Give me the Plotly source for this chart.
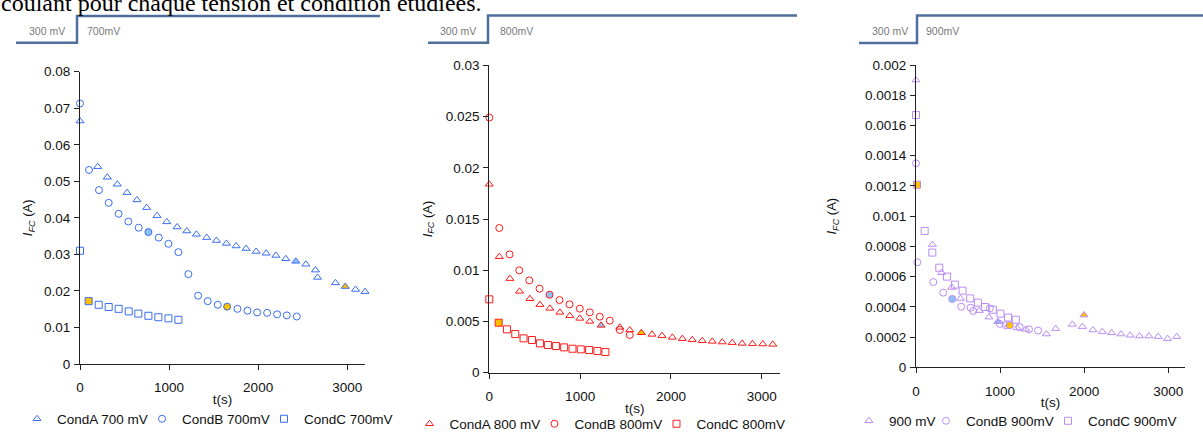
import plotly.graph_objects as go

W, H = 1203, 432

# ---------------- data ----------------
x_ticks = [0, 1000, 2000, 3000]
x_ticklabels = ["0", "1000", "2000", "3000"]

# Panel 1 : 700 mV
t_A700 = [0, 199, 307, 419, 528, 640, 749, 865, 974, 1090, 1199, 1307, 1423, 1532, 1644,
          1753, 1865, 1978, 2090, 2199, 2311, 2423, 2536, 2644, 2667, 2869, 2978, 3094, 3200]
i_A700 = [0.0665, 0.0540, 0.0511, 0.0492, 0.0469, 0.0449, 0.0428, 0.0406, 0.0389, 0.0375,
          0.0364, 0.0355, 0.0346, 0.0338, 0.0330, 0.0323, 0.0316, 0.0308, 0.0303, 0.0297,
          0.0288, 0.0281, 0.0273, 0.0257, 0.0237, 0.0222, 0.0212, 0.0204, 0.0198]
hl_A700 = {21: "blue", 26: "orange"}

t_B700 = [0, 101, 213, 322, 434, 543, 659, 768, 884, 993, 1105, 1217, 1326, 1434, 1547,
          1652, 1768, 1880, 1989, 2101, 2213, 2322, 2434]
i_B700 = [0.0713, 0.0531, 0.0476, 0.0441, 0.0411, 0.0390, 0.0373, 0.0361, 0.0346, 0.0329,
          0.0306, 0.0246, 0.0187, 0.0172, 0.0162, 0.0157, 0.0151, 0.0146, 0.0141, 0.0140,
          0.0136, 0.0133, 0.0130]
hl_B700 = {7: "blue", 15: "orange"}

t_C700 = [0, 97, 210, 322, 434, 547, 655, 768, 880, 993, 1105]
i_C700 = [0.0310, 0.0172, 0.0162, 0.0156, 0.0151, 0.0144, 0.0138, 0.0132, 0.0128, 0.0125, 0.0121]
hl_C700 = {1: "orange"}

y1_ticks = [0, 0.01, 0.02, 0.03, 0.04, 0.05, 0.06, 0.07, 0.08]
y1_ticklabels = ["0", "0.01", "0.02", "0.03", "0.04", "0.05", "0.06", "0.07", "0.08"]

# Panel 2 : 800 mV
t_A800 = [0, 110, 227, 333, 447, 557, 667, 777, 886, 996, 1106, 1231, 1436, 1546, 1674,
          1791, 1901, 2015, 2125, 2234, 2344, 2454, 2564, 2674, 2784, 2897, 3011, 3121]
i_A800 = [0.01839, 0.01132, 0.00918, 0.00794, 0.00722, 0.00664, 0.00628, 0.00589, 0.00556,
          0.00530, 0.00501, 0.00462, 0.00443, 0.00417, 0.00390, 0.00374, 0.00361, 0.00345,
          0.00332, 0.00322, 0.00312, 0.00306, 0.00299, 0.00293, 0.00286, 0.00283, 0.00280,
          0.00277]
hl_A800 = {11: "blue", 14: "orange"}

t_B800 = [0, 110, 223, 330, 440, 553, 663, 773, 883, 996, 1106, 1216, 1326, 1436, 1546]
i_B800 = [0.0249, 0.01412, 0.01155, 0.00999, 0.00901, 0.00820, 0.00761, 0.00709, 0.00667,
          0.00625, 0.00589, 0.00547, 0.00508, 0.00417, 0.00368]
hl_B800 = {6: "blue"}

t_C800 = [0, 103, 194, 286, 377, 469, 557, 645, 733, 824, 916, 1007, 1099, 1190, 1278]
i_C800 = [0.00716, 0.00488, 0.00423, 0.00377, 0.00335, 0.00319, 0.00286, 0.00270, 0.00260,
          0.00247, 0.00234, 0.00228, 0.00221, 0.00212, 0.00202]
hl_C800 = {1: "orange"}

y2_ticks = [0, 0.005, 0.01, 0.015, 0.02, 0.025, 0.03]
y2_ticklabels = ["0", "0.005", "0.01", "0.015", "0.02", "0.025", "0.03"]

# Panel 3 : 900 mV
t_A900 = [0, 195, 305, 425, 530, 752, 867, 974, 1100, 1203, 1306, 1551, 1662, 1860, 1979,
          1998, 2105, 2216, 2327, 2438, 2548, 2659, 2770, 2881, 2992, 3102]
i_A900 = [0.00190, 0.000812, 0.000626, 0.000528, 0.000455, 0.000375, 0.000332, 0.000302,
          0.000280, 0.000260, 0.000251, 0.000220, 0.000256, 0.000284, 0.000269, 0.000346,
          0.000247, 0.000236, 0.000229, 0.000220, 0.000212, 0.000207, 0.000207, 0.000203,
          0.000190, 0.000203]
hl_A900 = {7: "blue", 15: "orange"}

t_B900 = [0, 16, 206, 324, 431, 538, 649, 681, 878, 997, 1068, 1116, 1234, 1345, 1452]
i_B900 = [0.001349, 0.000695, 0.000564, 0.000494, 0.000452, 0.000401, 0.000394, 0.000372,
          0.000390, 0.000287, 0.000278, 0.000278, 0.000265, 0.000251, 0.000243]
hl_B900 = {4: "blue", 11: "orange"}

t_C900 = [0, 12, 103, 194, 277, 368, 463, 554, 645, 736, 823, 914, 1005, 1096, 1187]
i_C900 = [0.001669, 0.001208, 0.000902, 0.000759, 0.000659, 0.000600, 0.000547, 0.000507,
          0.000456, 0.000428, 0.000399, 0.000381, 0.000355, 0.000329, 0.000315]
hl_C900 = {1: "orange"}

y3_ticks = [0, 0.0002, 0.0004, 0.0006, 0.0008, 0.001, 0.0012, 0.0014, 0.0016, 0.0018, 0.002]
y3_ticklabels = ["0", "0.0002", "0.0004", "0.0006", "0.0008", "0.001", "0.0012", "0.0014",
                 "0.0016", "0.0018", "0.002"]

step_labels = [("300 mV", "700mV"), ("300 mV", "800mV"), ("300 mV", "900mV")]

# ---------------- styling ----------------
FONT = "Liberation Sans"
BLUE = "#3a6df0"
RED = "#ff1a1a"
PURPLE = "#b98cf5"
FILLS = {"blue": "#8fc1f2", "orange": "#ffc000"}
HOLLOW = "rgba(255,255,255,0)"


def px(x):
    return x / W


def py(y):
    return 1 - y / H


fig = go.Figure()

# (name, symbol, t, I, highlights, legend entry width)
panels = [
    dict(color=BLUE, legend="legend", xa="x", ya="y",
         series=[("CondA 700 mV", "triangle-up", t_A700, i_A700, hl_A700, 80),
                 ("CondB 700mV", "circle", t_B700, i_B700, hl_B700, 77),
                 ("CondC 700mV", "square", t_C700, i_C700, hl_C700, 88)]),
    dict(color=RED, legend="legend2", xa="x2", ya="y2",
         series=[("CondA 800 mV", "triangle-up", t_A800, i_A800, hl_A800, 80),
                 ("CondB 800mV", "circle", t_B800, i_B800, hl_B800, 77),
                 ("CondC 800mV", "square", t_C800, i_C800, hl_C800, 88)]),
    dict(color=PURPLE, legend="legend3", xa="x3", ya="y3",
         series=[("900 mV", "triangle-up", t_A900, i_A900, hl_A900, 32),
                 ("CondB 900mV", "circle", t_B900, i_B900, hl_B900, 77),
                 ("CondC 900mV", "square", t_C900, i_C900, hl_C900, 88)]),
]

for p in panels:
    for name, sym, tt, ii, hl, lw in p["series"]:
        fills = [FILLS[hl[k]] if k in hl else HOLLOW for k in range(len(tt))]
        fig.add_trace(go.Scatter(
            x=tt, y=ii, mode="markers", name=name,
            xaxis=p["xa"], yaxis=p["ya"], legend=p["legend"], cliponaxis=False,
            legendwidth=lw,
            marker=dict(symbol=sym, size=7, color=fills,
                        line=dict(color=p["color"], width=1)),
        ))

# axis geometry (pixels)
geo = [
    dict(x0=80, x1=365, y0=71.7, y1=364.0, yt=y1_ticks, yl=y1_ticklabels, yr=[0, 0.08], ystand=8),
    dict(x0=489.3, x1=780, y0=65.3, y1=372.7, yt=y2_ticks, yl=y2_ticklabels, yr=[0, 0.03], ystand=10),
    dict(x0=916, x1=1185, y0=65.0, y1=367.3, yt=y3_ticks, yl=y3_ticklabels, yr=[0, 0.002], ystand=25),
]

axis_common = dict(showgrid=False, zeroline=False, showline=True, linecolor="#222",
                   linewidth=1, ticks="outside", ticklen=5, tickcolor="#222",
                   tickfont=dict(family=FONT, size=13.5, color="#111"))

layout = dict(width=W, height=H, margin=dict(l=0, r=0, t=0, b=0, autoexpand=False),
              paper_bgcolor="white", plot_bgcolor="white",
              font=dict(family=FONT, size=13.5, color="#111"))

for k, g in enumerate(geo):
    sfx = "" if k == 0 else str(k + 1)
    layout["xaxis" + sfx] = dict(
        axis_common, domain=[px(g["x0"]), px(g["x1"])], range=[0, 3200],
        anchor="y" + sfx, tickvals=x_ticks, ticktext=x_ticklabels,
        ticklabelstandoff=6,
        title=dict(text="t(s)", standoff=0, font=dict(family=FONT, size=13.5, color="#111")))
    layout["yaxis" + sfx] = dict(
        axis_common, domain=[py(g["y1"]), py(g["y0"])], range=g["yr"],
        anchor="x" + sfx, tickvals=g["yt"], ticktext=g["yl"],
        ticklabelstandoff=1,
        title=dict(text="<i>I<sub>FC</sub></i> (A)", standoff=g["ystand"],
                   font=dict(family=FONT, size=13, color="#111")))

# legend left edges (px) and vertical centres
legend_pos = [(17, 419), (409.5, 424), (849, 421)]
for k, (lx, ly) in enumerate(legend_pos):
    key = "legend" if k == 0 else "legend" + str(k + 1)
    layout[key] = dict(orientation="h", x=px(lx), y=py(ly), xanchor="left", yanchor="middle",
                       bgcolor="rgba(0,0,0,0)", itemwidth=30, tracegroupgap=0,
                       font=dict(family=FONT, size=13.5, color="#111"))

fig.update_layout(**layout)

# step lines (potential steps) above each panel
steps = [
    (16, 77, 380, 42.7, 16),
    (428, 488, 797, 42.7, 15.5),
    (859, 917, 1203, 43, 15.5),
]
text_pos = [(47.2, 103.3, 31), (457.5, 516.3, 31.5), (890, 942, 31.5)]
for (xa, xb, xc, ylo, yhi), (lab_lo, lab_hi), (tx1, tx2, ty) in zip(steps, step_labels, text_pos):
    fig.add_shape(type="path", xref="paper", yref="paper",
                  path=f"M {px(xa)},{py(ylo)} L {px(xb)},{py(ylo)} L {px(xb)},{py(yhi)} L {px(xc)},{py(yhi)}",
                  line=dict(color="#4e6f9c", width=2.5))
    fig.add_annotation(x=px(tx1), y=py(ty), xref="paper", yref="paper", text=lab_lo,
                       showarrow=False, xanchor="center", yanchor="middle",
                       font=dict(family=FONT, size=10.5, color="#7a7a7a"))
    fig.add_annotation(x=px(tx2), y=py(ty), xref="paper", yref="paper", text=lab_hi,
                       showarrow=False, xanchor="center", yanchor="middle",
                       font=dict(family=FONT, size=10.5, color="#7a7a7a"))

# clipped line of running text at the very top of the page
fig.add_annotation(x=px(-1), y=py(18.5), xref="paper", yref="paper",
                   text="coulant pour chaque tension et condition étudiées.",
                   showarrow=False, xanchor="left", yanchor="bottom",
                   font=dict(family="Liberation Serif", size=24, color="#000"))

fig.write_html("out.html", config={"displayModeBar": False},
               post_script="document.body.style.margin='0';document.body.style.overflow='hidden';")
